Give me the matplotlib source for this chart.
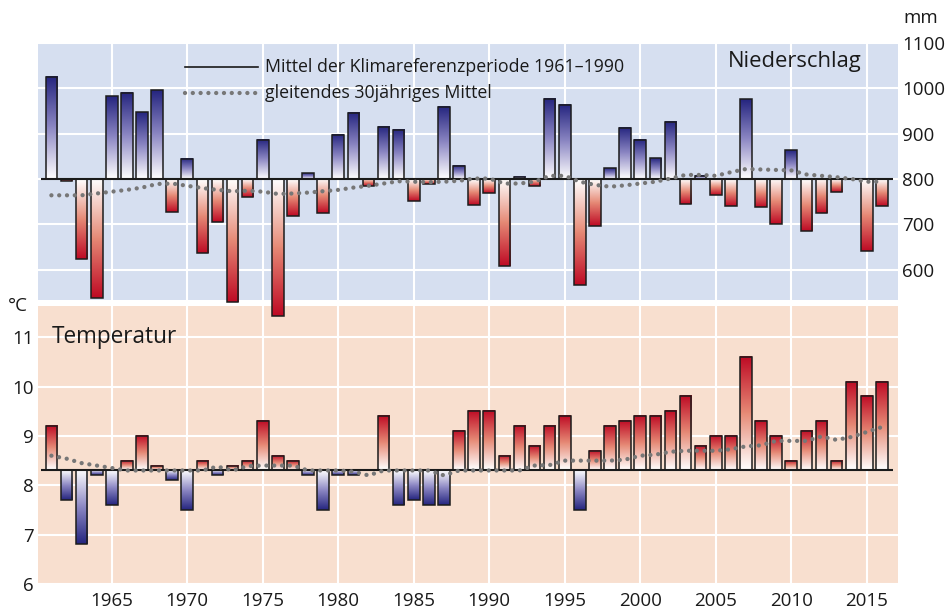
import numpy as np
import matplotlib
matplotlib.use("Agg")
import matplotlib.pyplot as plt
from matplotlib.colors import LinearSegmentedColormap

plt.rcParams["font.family"] = ["Open Sans", "DejaVu Sans"]

# Daten
JAHRE = list(range(1961, 2017))

NIEDERSCHLAG = [1026, 796, 624, 537, 983, 990, 947, 996, 728, 845,
                637, 706, 528, 761, 887, 497, 719, 813, 724, 898,
                946, 784, 915, 909, 752, 790, 959, 829, 743, 770,
                608, 805, 784, 977, 964, 567, 697, 824, 913, 887,
                846, 926, 745, 807, 765, 741, 976, 739, 700, 863,
                686, 724, 772, 799, 642, 741]

NIEDERSCHLAG_30J = [764, 764, 764, 768, 772, 776, 781, 789, 790, 785,
                    780, 776, 773, 774, 772, 767, 768, 770, 773, 776,
                    781, 785, 790, 795, 794, 793, 794, 796, 801, 801,
                    790, 790, 794, 807, 807, 794, 787, 783, 786, 790,
                    794, 801, 809, 809, 807, 815, 822, 821, 820, 819,
                    810, 807, 804, 800, 794, 794]

TEMPERATUR = [9.2, 7.7, 6.8, 8.2, 7.6, 8.5, 9.0, 8.4, 8.1, 7.5,
              8.5, 8.2, 8.4, 8.5, 9.3, 8.6, 8.5, 8.2, 7.5, 8.2,
              8.2, 8.3, 9.4, 7.6, 7.7, 7.6, 7.6, 9.1, 9.5, 9.5,
              8.6, 9.2, 8.8, 9.2, 9.4, 7.5, 8.7, 9.2, 9.3, 9.4,
              9.4, 9.5, 9.8, 8.8, 9.0, 9.0, 10.6, 9.3, 9.0, 8.5,
              9.1, 9.3, 8.5, 10.1, 9.8, 10.1]

TEMPERATUR_30J = [8.6, 8.54, 8.45, 8.4, 8.35, 8.3, 8.3, 8.3, 8.3, 8.3,
                  8.3, 8.38, 8.3, 8.39, 8.4, 8.4, 8.4, 8.3, 8.3, 8.3,
                  8.28, 8.2, 8.3, 8.3, 8.3, 8.3, 8.2, 8.3, 8.3, 8.3,
                  8.3, 8.3, 8.4, 8.41, 8.5, 8.5, 8.5, 8.5, 8.52, 8.6,
                  8.62, 8.68, 8.7, 8.7, 8.7, 8.73, 8.79, 8.81, 8.9, 8.9,
                  8.9, 8.99, 8.92, 8.98, 9.08, 9.18]

MITTEL_N = 800
MITTEL_T = 8.3

N_TICKS = [600, 700, 800, 900, 1000, 1100]
T_TICKS = [6, 7, 8, 9, 10, 11]
X_TICKS = [1965, 1970, 1975, 1980, 1985, 1990, 1995, 2000, 2005, 2010, 2015]

BLAU = LinearSegmentedColormap.from_list("blau", ["#ffffff", "#8d88c4", "#25257f"])
ROT = LinearSegmentedColormap.from_list("rot", ["#ffffff", "#e68a76", "#be0a24"])
GRAU = "#777777"


def verlauf_balken(ax, werte, basis, cmap_hoch, cmap_tief, clip=True):
    breite = 0.77
    grad = np.linspace(0, 1, 128).reshape(-1, 1)
    for x, w in zip(JAHRE, werte):
        if abs(w - basis) < 1e-9:
            continue
        cmap = cmap_hoch if w > basis else cmap_tief
        ax.imshow(grad, cmap=cmap, aspect="auto", origin="lower",
                  extent=(x - breite / 2, x + breite / 2, basis, w),
                  interpolation="bilinear", clip_on=clip, zorder=2)
    ax.bar(JAHRE, np.array(werte) - basis, bottom=basis, width=breite,
           fill=False, edgecolor="#1c1c1c", linewidth=1.1, clip_on=clip, zorder=3)


def punkte(ax, y, **kw):
    ax.plot(JAHRE, y, color=GRAU, linewidth=3.1, linestyle=(0, (0.01, 1.8)),
            dash_capstyle="round", zorder=5, **kw)


fig = plt.figure(figsize=(9.47, 6.12), dpi=100)
ax_t = fig.add_axes([0.0404, 0.0458, 0.9075, 0.4547], zorder=1)
ax_n = fig.add_axes([0.0404, 0.5098, 0.9075, 0.4199], zorder=2)

for ax, farbe in ((ax_n, "#d6dff0"), (ax_t, "#f8dfcf")):
    ax.set_facecolor(farbe)
    ax.set_axisbelow(True)
    ax.grid(color="white", linewidth=1.5)
    for s in ax.spines.values():
        s.set_visible(False)
    ax.tick_params(length=0, labelsize=13.5, colors="#1a1a1a")
    ax.set_xticks(X_TICKS)

# Niederschlag
verlauf_balken(ax_n, NIEDERSCHLAG, MITTEL_N, BLAU, ROT, clip=False)
ax_n.hlines(MITTEL_N, 1960.3, 2016.75, color="#1a1a1a", linewidth=1.5, zorder=4)
punkte(ax_n, NIEDERSCHLAG_30J)
ax_n.set_xlim(1960.13, 2017.05)
ax_n.set_ylim(533, 1100)
ax_n.set_yticks(N_TICKS)
ax_n.yaxis.tick_right()
ax_n.tick_params(axis="y", pad=3)
ax_n.tick_params(axis="x", labelbottom=False)
ax_n.text(0.958, 0.93, "Niederschlag", transform=ax_n.transAxes, ha="right",
          va="center", fontsize=15.8, color="#1a1a1a")

# Legende
ax_n.plot([0.1707, 0.2556], [0.9066, 0.9066], transform=ax_n.transAxes,
          color="#1a1a1a", linewidth=1.2, zorder=5)
ax_n.plot([0.1707, 0.2556], [0.8054, 0.8054], transform=ax_n.transAxes,
          color=GRAU, linewidth=3.1, linestyle=(0, (0.01, 1.8)),
          dash_capstyle="round", zorder=5)
ax_n.text(0.2638, 0.9066, "Mittel der Klimareferenzperiode 1961–1990",
          transform=ax_n.transAxes, ha="left", va="center", fontsize=12.8,
          color="#1a1a1a")
ax_n.text(0.2638, 0.8054, "gleitendes 30jähriges Mittel",
          transform=ax_n.transAxes, ha="left", va="center", fontsize=12.8,
          color="#1a1a1a")

# Temperatur
verlauf_balken(ax_t, TEMPERATUR, MITTEL_T, ROT, BLAU)
ax_t.hlines(MITTEL_T, 1960.3, 2016.75, color="#1a1a1a", linewidth=1.5, zorder=4)
punkte(ax_t, TEMPERATUR_30J)
ax_t.set_xlim(1960.13, 2017.05)
ax_t.set_ylim(6, 11.64)
ax_t.set_yticks(T_TICKS)
ax_t.tick_params(axis="y", pad=3)
ax_t.tick_params(axis="x", pad=6)
ax_t.text(0.016, 0.8875, "Temperatur", transform=ax_t.transAxes, ha="left",
          va="center", fontsize=16.3, color="#1a1a1a")

fig.text(903 / 947, 1 - 18 / 612, "mm", ha="left", va="center", fontsize=13.5,
         color="#1a1a1a")
fig.text(8 / 947, 1 - 306 / 612, "°C", ha="left", va="center", fontsize=13.5,
         color="#1a1a1a")

fig.savefig("out.png", dpi=100)
